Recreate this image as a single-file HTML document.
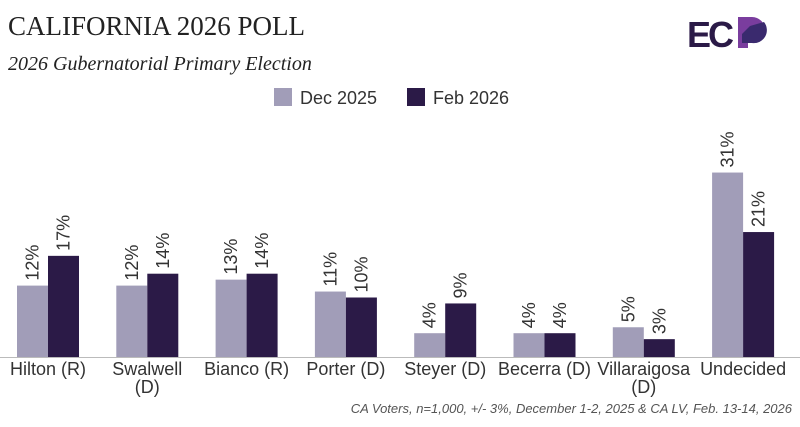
<!DOCTYPE html>
<html><head><meta charset="utf-8"><style>
body{margin:0;background:#fff;}
svg{display:block;font-family:"Liberation Sans",sans-serif;}
</style></head><body>
<svg id="c" width="800" height="427" viewBox="0 0 800 427">
<text x="8" y="35" font-family="Liberation Serif,serif" font-size="27" fill="#222">CALIFORNIA 2026 POLL</text>
<text x="8" y="70" font-family="Liberation Serif,serif" font-style="italic" font-size="20" fill="#222">2026 Gubernatorial Primary Election</text>
<g>
<text x="687" y="47" font-size="36" font-weight="bold" fill="#2b1a47" letter-spacing="-3">EC</text>
<path d="M738 17 h14 a13 13 0 0 1 0 26 h-4 v5 h-10z" fill="#7a3d9e"/>
<path d="M742 34 l8 -8 l14 -4 a13 13 0 0 1 -12 21 h-10z" fill="#3a2a6e"/>
</g>
<g>
<rect x="274" y="88" width="18" height="18" fill="#a19db8"/>
<text x="300" y="104" font-size="18" fill="#333">Dec 2025</text>
<rect x="407" y="88" width="18" height="18" fill="#2b1a47"/>
<text x="433" y="104" font-size="18" fill="#333">Feb 2026</text>
</g>
<line x1="0" y1="357.5" x2="800" y2="357.5" stroke="#bbb"/>
<g id="bars"></g>
<text x="792" y="413" text-anchor="end" font-style="italic" font-size="13" fill="#555">CA Voters, n=1,000, +/- 3%, December 1-2, 2025 &amp; CA LV, Feb. 13-14, 2026</text>
</svg>
<script>
const categories=["Hilton (R)","Swalwell|(D)","Bianco (R)","Porter (D)","Steyer (D)","Becerra (D)","Villaraigosa|(D)","Undecided"];
const dec2025=[12,12,13,11,4,4,5,31];
const feb2026=[17,14,14,10,9,4,3,21];
const NS="http://www.w3.org/2000/svg";
const g=document.getElementById("bars");
const base=357,scale=5.95,bw=31;
const x=i=>48+i*99.3;
const y=v=>base-v*scale;
function mk(t,a){const e=document.createElementNS(NS,t);for(const k in a)e.setAttribute(k,a[k]);g.appendChild(e);return e;}
categories.forEach((c,i)=>{
 [[dec2025,"#a19db8",-bw,"dec"],[feb2026,"#2b1a47",0,"feb"]].forEach(([arr,col,off,nm])=>{
  const v=arr[i];
  const r=mk("rect",{x:x(i)+off,y:y(v),width:bw,height:v*scale,fill:col});
  
  
  const cx=x(i)+off+bw/2+6,cy=y(v)-5;
  const t=mk("text",{x:cx,y:cy,"font-size":18,fill:"#333",transform:`rotate(-90 ${cx} ${cy})`});
  t.textContent=v+"%";
  
  
 });
 c.split("|").forEach((ln,j)=>{
  const t=mk("text",{x:x(i),y:375+j*18,"font-size":18,fill:"#333","text-anchor":"middle"});
  t.textContent=ln;
  
  
 });
});
</script>
</body></html>
